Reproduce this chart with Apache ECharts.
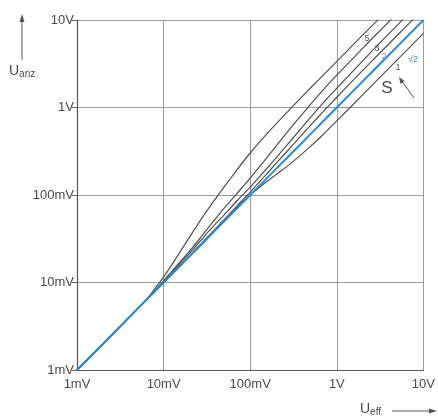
<!DOCTYPE html>
<html><head><meta charset="utf-8">
<script src="https://cdn.jsdelivr.net/npm/echarts@6/dist/echarts.min.js"></script>
<style>html,body{margin:0;padding:0;background:#fff}#c{width:438px;height:419px}</style>
</head><body><div id="c"></div>
<script>
// Ueff (mV)
const xValues = [1, 6, 8, 10, 12, 15, 20, 25, 30, 40, 50, 70, 100, 150, 200, 300, 500, 700, 1000, 2000, 3000, 5000, 10000];
// Uanz (mV) for each curve
const curveSqrt2 = [1, 6, 8, 10, 12, 15, 20, 25, 30, 40, 50, 70, 100, 150, 200, 300, 500, 700, 1000, 2000, 3000, 5000, 10000];
const curve5 = [1, 6, 8.6, 11.6, 15.1, 21.2, 33.2, 46.6, 61.2, 91.6, 124, 193, 302, 480, 655, 997, 1680, 2360, 3370, 6750, 10100, null, null];
const curve3 = [1, 6, 8.2, 10.5, 12.9, 16.6, 23, 30, 37.8, 53.9, 70.6, 103.6, 156, 255, 364, 599, 1090, 1600, 2340, 4780, 7200, 12000, null];
const curve2 = [1, 6, 8.05, 10.2, 12.3, 15.9, 21.7, 27.8, 34.4, 47, 59.4, 85.4, 123, 193, 267, 428, 775, 1135, 1660, 3440, 5240, 8750, 17500];
const curve2b = [1, 6, 8, 10, 12, 15.1, 20.2, 25.6, 30.8, 41.5, 52.4, 74.6, 108, 168, 231, 360, 630, 902, 1310, 2670, 4010, 6700, 13400];
const curve1 = [1, 6, 8, 10, 12, 15, 20, 25, 30, 40.5, 50.9, 71.3, 100, 138.7, 172, 233, 362, 495, 703, 1406, 2110, 3520, 7030];
const tickValues = [1, 10, 100, 1000, 10000];
const xTickLabels = ['1mV', '10mV', '100mV', '1V', '10V'];
const yTickLabels = ['1mV', '10mV', '100mV', '1V', '10V'];

const chart = echarts.init(document.getElementById('c'), null, {renderer: 'canvas'});
function pairs(ys) { return xValues.map((x, i) => ys[i] == null ? null : [x, ys[i]]).filter(p => p); }
const font = 'Liberation Sans, Arial, sans-serif';
function lab(list) { return v => { const i = tickValues.indexOf(Math.round(v)); return i >= 0 ? list[i] : ''; }; }
const gray = { type: 'line', smooth: 0.25, showSymbol: false, symbol: 'none', lineStyle: { color: '#505050', width: 1.2 }, z: 2, clip: true };
chart.setOption({
  animation: false,
  backgroundColor: '#ffffff',
  grid: { left: 77, right: 12, top: 20, bottom: 49 },
  xAxis: {
    type: 'log', logBase: 10, min: 1, max: 10000,
    axisLine: { lineStyle: { color: '#555', width: 1.2 } },
    axisTick: { show: false },
    minorTick: { show: false },
    splitLine: { show: true, lineStyle: { color: '#9a9a9a', width: 1 } },
    axisLabel: { formatter: lab(xTickLabels), color: '#4a4a4a', fontFamily: font, fontSize: 13, margin: 8 }
  },
  yAxis: {
    type: 'log', logBase: 10, min: 1, max: 10000,
    axisLine: { lineStyle: { color: '#555', width: 1.2 } },
    axisTick: { show: true, length: 5, lineStyle: { color: '#666' } },
    splitLine: { show: true, lineStyle: { color: '#9a9a9a', width: 1 } },
    axisLabel: { formatter: lab(yTickLabels), color: '#4a4a4a', fontFamily: font, fontSize: 13, margin: 3 }
  },
  series: [
    Object.assign({}, gray, { name: '5', data: pairs(curve5) }),
    Object.assign({}, gray, { name: '3', data: pairs(curve3) }),
    Object.assign({}, gray, { name: '2', data: pairs(curve2) }),
    Object.assign({}, gray, { name: '2b', data: pairs(curve2b) }),
    Object.assign({}, gray, { name: '1', data: pairs(curve1) }),
    { type: 'line', name: 'sqrt2', data: pairs(curveSqrt2), showSymbol: false, symbol: 'none', lineStyle: { color: '#2a8ad8', width: 2 }, z: 3 }
  ],
  graphic: [
    { type: 'line', shape: { x1: 22, y1: 60, x2: 22, y2: 18 }, style: { stroke: '#555', lineWidth: 1 } },
    { type: 'polygon', shape: { points: [[22, 14], [19.5, 22], [24.5, 22]] }, style: { fill: '#555' } },
    { type: 'text', left: 9, top: 64, style: { rich: { u: { fontSize: 14, fontFamily: font, fill: '#4a4a4a' }, s: { fontSize: 10, fontFamily: font, fill: '#4a4a4a', padding: [6, 0, 0, 0] } }, text: '{u|U}{s|anz}' } },
    { type: 'text', left: 360, top: 402, style: { rich: { u: { fontSize: 14, fontFamily: font, fill: '#4a4a4a' }, s: { fontSize: 10, fontFamily: font, fill: '#4a4a4a', padding: [6, 0, 0, 0] } }, text: '{u|U}{s|eff}' } },
    { type: 'line', shape: { x1: 392, y1: 411, x2: 432, y2: 411 }, style: { stroke: '#555', lineWidth: 1 } },
    { type: 'polygon', shape: { points: [[437, 411], [429, 408.5], [429, 413.5]] }, style: { fill: '#555' } },
    { type: 'text', x: 367, y: 39, style: { text: '5', fontSize: 9, fontFamily: font, fill: '#555', align: 'center', verticalAlign: 'middle' } },
    { type: 'text', x: 377, y: 49, style: { text: '3', fontSize: 9, fontFamily: font, fill: '#555', align: 'center', verticalAlign: 'middle' } },
    { type: 'text', x: 384, y: 57, style: { text: '2', fontSize: 9, fontFamily: font, fill: '#c070a0', align: 'center', verticalAlign: 'middle' } },
    { type: 'text', x: 398, y: 68, style: { text: '1', fontSize: 9, fontFamily: font, fill: '#555', align: 'center', verticalAlign: 'middle' } },
    { type: 'text', x: 413, y: 60, style: { text: '√2', fontSize: 9, fontFamily: font, fill: '#3a90d8', align: 'center', verticalAlign: 'middle' } },
    { type: 'text', x: 387, y: 88, style: { text: 'S', fontSize: 17, fontFamily: font, fill: '#4a4a4a', align: 'center', verticalAlign: 'middle' } },
    { type: 'line', shape: { x1: 414, y1: 98, x2: 401, y2: 80 }, style: { stroke: '#555', lineWidth: 1 } },
    { type: 'polygon', shape: { points: [[399, 77], [400.5, 84], [404.5, 81]] }, style: { fill: '#555' } }
  ]
});
</script></body></html>
